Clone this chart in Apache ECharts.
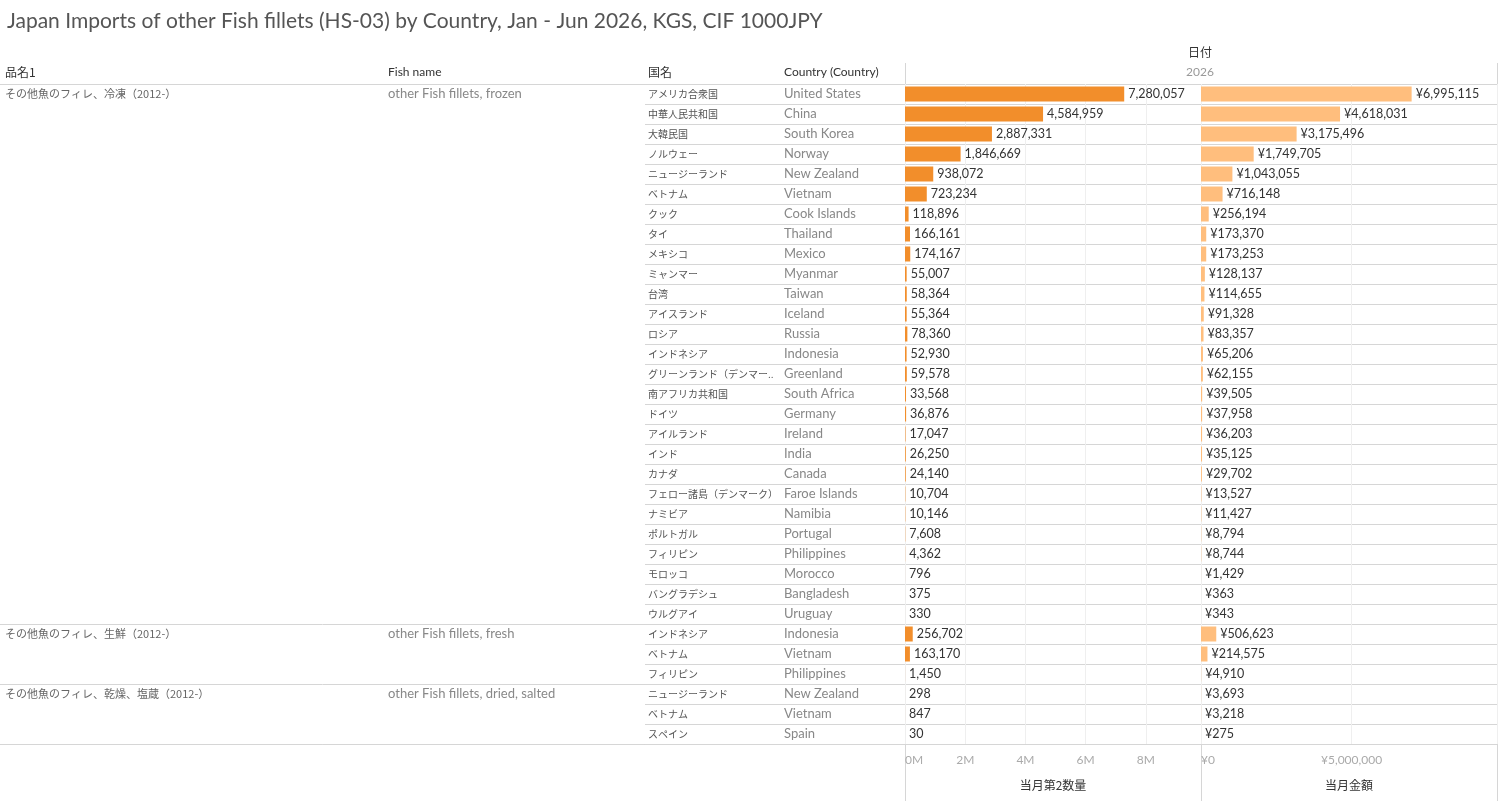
<!DOCTYPE html>
<html>
<head>
<meta charset="utf-8">
<script src="https://cdn.jsdelivr.net/npm/echarts@6/dist/echarts.min.js"></script>
<style>
html, body { margin: 0; padding: 0; background: #fff; }
#main { width: 1499px; height: 801px; }
</style>
</head>
<body>
<div id="main"></div>
<script>
var groupJp = ['その他魚のフィレ、冷凍（2012-）', 'その他魚のフィレ、生鮮（2012-）', 'その他魚のフィレ、乾燥、塩蔵（2012-）'];
var groupEn = ['other Fish fillets, frozen', 'other Fish fillets, fresh', 'other Fish fillets, dried, salted'];
var groupSize = [27, 3, 3];

var countryJp = ['アメリカ合衆国', '中華人民共和国', '大韓民国', 'ノルウェー', 'ニュージーランド', 'ベトナム', 'クック', 'タイ', 'メキシコ', 'ミャンマー',
	'台湾', 'アイスランド', 'ロシア', 'インドネシア', 'グリーンランド（デンマーク）', '南アフリカ共和国', 'ドイツ', 'アイルランド', 'インド', 'カナダ',
	'フェロー諸島（デンマーク）', 'ナミビア', 'ポルトガル', 'フィリピン', 'モロッコ', 'バングラデシュ', 'ウルグアイ',
	'インドネシア', 'ベトナム', 'フィリピン',
	'ニュージーランド', 'ベトナム', 'スペイン'];
var countryEn = ['United States', 'China', 'South Korea', 'Norway', 'New Zealand', 'Vietnam', 'Cook Islands', 'Thailand', 'Mexico', 'Myanmar',
	'Taiwan', 'Iceland', 'Russia', 'Indonesia', 'Greenland', 'South Africa', 'Germany', 'Ireland', 'India', 'Canada',
	'Faroe Islands', 'Namibia', 'Portugal', 'Philippines', 'Morocco', 'Bangladesh', 'Uruguay',
	'Indonesia', 'Vietnam', 'Philippines',
	'New Zealand', 'Vietnam', 'Spain'];
// 当月第2数量
var qty = [7280057, 4584959, 2887331, 1846669, 938072, 723234, 118896, 166161, 174167, 55007,
	58364, 55364, 78360, 52930, 59578, 33568, 36876, 17047, 26250, 24140,
	10704, 10146, 7608, 4362, 796, 375, 330,
	256702, 163170, 1450,
	298, 847, 30];
// 当月金額
var amount = [6995115, 4618031, 3175496, 1749705, 1043055, 716148, 256194, 173370, 173253, 128137,
	114655, 91328, 83357, 65206, 62155, 39505, 37958, 36203, 35125, 29702,
	13527, 11427, 8794, 8744, 1429, 363, 343,
	506623, 214575, 4910,
	3693, 3218, 275];

var chart = echarts.init(document.getElementById('main'));

var rows = [];
var groupStart = {};
(function() {
	var k = 0;
	for (var g = 0; g < groupSize.length; g++) {
		groupStart[k] = g;
		k += groupSize[g];
	}
	for (var i = 0; i < countryJp.length; i++) rows.push('r' + i);
})();

function fmt(v) {
	return v.toString().replace(/\B(?=(\d{3})+(?!\d))/g, ',');
}

var TOP = 84, H = 660;
var LINE = '#d6d6d6';
var FONT = 'Lato, "Noto Sans CJK JP", sans-serif';
var JPFONT = '"Noto Sans CJK JP", sans-serif';

function textGrid(left, width) {
	return { left: left, top: TOP, width: width, height: H, containLabel: false };
}

function hiddenX(idx, bottomLine) {
	return {
		gridIndex: idx, type: 'value', min: 0, max: 1,
		axisLine: { show: !!bottomLine, lineStyle: { color: LINE } },
		axisTick: { show: false }, axisLabel: { show: false }, splitLine: { show: false }
	};
}

function textY(idx, formatter, opts) {
	opts = opts || {};
	return {
		gridIndex: idx, type: 'category', data: rows, inverse: true,
		axisLine: { show: false }, axisTick: { show: false },
		axisLabel: {
			interval: 0, inside: true, margin: opts.margin || 0, align: 'left',
			color: opts.color || '#666', fontSize: opts.fontSize || 12, fontFamily: opts.fontFamily || FONT,
			width: opts.width, overflow: opts.width ? 'truncate' : 'none', ellipsis: '..',
			formatter: formatter
		},
		splitLine: opts.split ? { show: true, interval: opts.split, lineStyle: { color: LINE } } : { show: false }
	};
}

var option = {
	animation: false,
	title: {
		text: 'Japan Imports of other Fish fillets (HS-03) by Country, Jan - Jun 2026, KGS, CIF 1000JPY',
		left: 2, top: 6,
		textStyle: { fontSize: 21, fontWeight: 'normal', color: '#555', fontFamily: FONT }
	},
	grid: [
		textGrid(0, 645),
		textGrid(388, 257),
		textGrid(645, 260),
		textGrid(784, 121),
		{ left: 905, top: TOP, width: 296, height: H },
		{ left: 1201, top: TOP, width: 296, height: H }
	],
	xAxis: [
		hiddenX(0, true),
		hiddenX(1, false),
		hiddenX(2, true),
		hiddenX(3, false),
		{
			gridIndex: 4, type: 'value', min: 0, max: 9830000, interval: 2000000,
			axisLine: { show: true, lineStyle: { color: LINE } }, axisTick: { show: false },
			axisLabel: {
				color: '#aaa', fontSize: 12, fontFamily: FONT, margin: 10,
				showMaxLabel: false, alignMinLabel: 'left',
				formatter: function(v) { return (v / 1000000) + 'M'; }
			},
			splitLine: { show: true, lineStyle: { color: '#efefef' } },
			name: '当月第2数量', nameLocation: 'middle', nameGap: 35,
			nameTextStyle: { color: '#333', fontSize: 12, fontFamily: JPFONT }
		},
		{
			gridIndex: 5, type: 'value', min: 0, max: 9830000, interval: 5000000,
			axisLine: { show: true, lineStyle: { color: LINE } }, axisTick: { show: false },
			axisLabel: {
				color: '#aaa', fontSize: 12, fontFamily: FONT, margin: 10,
				showMaxLabel: false, alignMinLabel: 'left',
				formatter: function(v) { return '¥' + fmt(v); }
			},
			splitLine: { show: true, lineStyle: { color: '#efefef' } },
			name: '当月金額', nameLocation: 'middle', nameGap: 35,
			nameTextStyle: { color: '#333', fontSize: 12, fontFamily: JPFONT }
		}
	],
	yAxis: [
		textY(0, function(v, i) { return groupStart[i] !== undefined ? groupJp[groupStart[i]] : ''; },
			{ margin: 5, color: '#666', fontSize: 11, fontFamily: JPFONT,
			  split: function(i) { return groupStart[i] !== undefined; } }),
		textY(1, function(v, i) { return groupStart[i] !== undefined ? groupEn[groupStart[i]] : ''; },
			{ margin: 0, color: '#888', fontSize: 13 }),
		textY(2, function(v, i) { return countryJp[i]; },
			{ margin: 3, color: '#555', fontSize: 10, fontFamily: JPFONT, width: 133,
			  split: function() { return true; } }),
		textY(3, function(v, i) { return countryEn[i]; },
			{ margin: 0, color: '#888', fontSize: 13 }),
		{
			gridIndex: 4, type: 'category', data: rows, inverse: true,
			axisLine: { show: false }, axisTick: { show: false }, axisLabel: { show: false },
			splitLine: { show: true, lineStyle: { color: LINE } }
		},
		{
			gridIndex: 5, type: 'category', data: rows, inverse: true,
			axisLine: { show: false }, axisTick: { show: false }, axisLabel: { show: false },
			splitLine: { show: true, lineStyle: { color: LINE } }
		}
	],
	series: [
		{
			name: '当月第2数量', type: 'bar', xAxisIndex: 4, yAxisIndex: 4,
			data: qty, barWidth: 15, itemStyle: { color: '#F28E2B' },
			label: {
				show: true, position: 'right', distance: 4, color: '#333', fontSize: 12.5, fontFamily: FONT,
				formatter: function(p) { return fmt(p.value); }
			}
		},
		{
			name: '当月金額', type: 'bar', xAxisIndex: 5, yAxisIndex: 5,
			data: amount, barWidth: 15, itemStyle: { color: '#FFBE7D' },
			label: {
				show: true, position: 'right', distance: 4, color: '#333', fontSize: 12.5, fontFamily: FONT,
				formatter: function(p) { return '¥' + fmt(p.value); }
			}
		}
	],
	graphic: [
		{ type: 'text', x: 1200, y: 46, style: { text: '日付', fill: '#333', font: '12px ' + JPFONT, textAlign: 'center' } },
		{ type: 'text', x: 1200, y: 66, style: { text: '2026', fill: '#999', font: '12px ' + FONT, textAlign: 'center' } },
		{ type: 'text', x: 5, y: 66, style: { text: '品名1', fill: '#333', font: '12px ' + JPFONT } },
		{ type: 'text', x: 388, y: 66, style: { text: 'Fish name', fill: '#333', font: '12px ' + FONT } },
		{ type: 'text', x: 648, y: 66, style: { text: '国名', fill: '#333', font: '12px ' + JPFONT } },
		{ type: 'text', x: 784, y: 66, style: { text: 'Country (Country)', fill: '#333', font: '12px ' + FONT } },
		{ type: 'line', shape: { x1: 0, y1: 84.5, x2: 905, y2: 84.5 }, style: { stroke: LINE } },
		{ type: 'line', shape: { x1: 905.5, y1: 63, x2: 905.5, y2: 801 }, style: { stroke: LINE } },
		{ type: 'line', shape: { x1: 1201.5, y1: 84, x2: 1201.5, y2: 801 }, style: { stroke: LINE } },
		{ type: 'line', shape: { x1: 1497.5, y1: 63, x2: 1497.5, y2: 801 }, style: { stroke: LINE } }
	]
};

chart.setOption(option);

window.onresize = function() { chart.resize(); };
</script>
</body>
</html>
